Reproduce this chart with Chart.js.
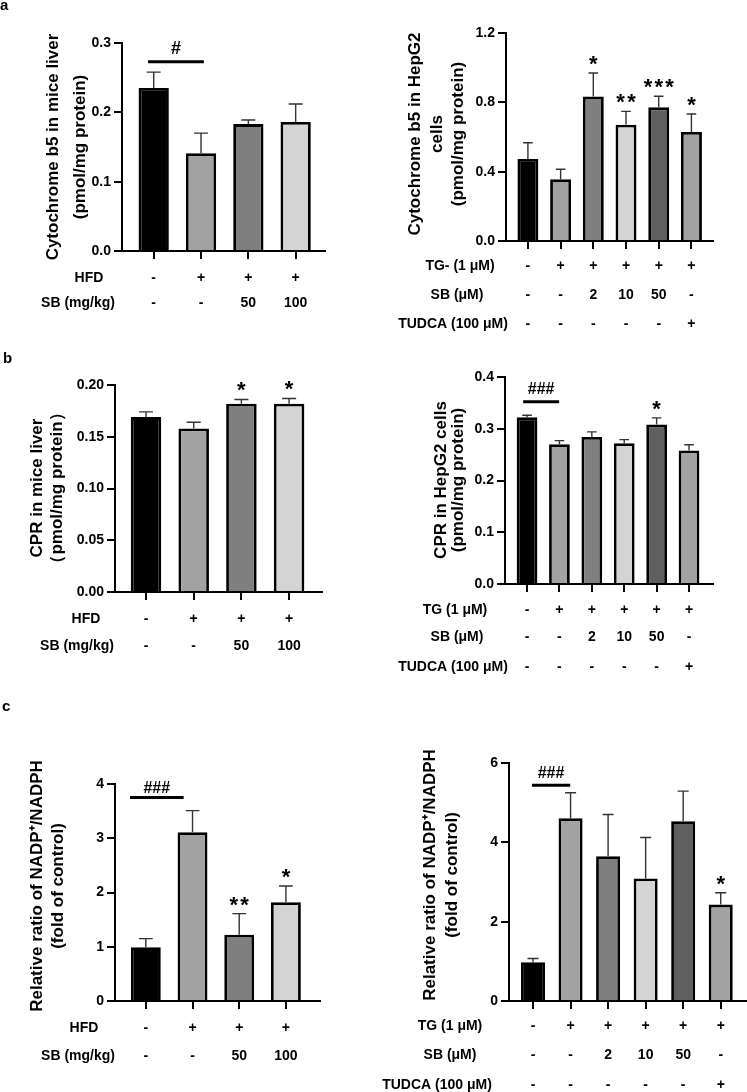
<!DOCTYPE html>
<html><head><meta charset="utf-8">
<script src="https://cdn.jsdelivr.net/npm/chart.js@4.4.1/dist/chart.umd.min.js"></script>
<style>
html,body{margin:0;padding:0;background:#fff;overflow:hidden;width:747px;height:1092px}
canvas{position:absolute;left:0;top:0}
</style></head><body>
<canvas id="aL" width="747" height="1092"></canvas>
<canvas id="aR" width="747" height="1092"></canvas>
<canvas id="bL" width="747" height="1092"></canvas>
<canvas id="bR" width="747" height="1092"></canvas>
<canvas id="cL" width="747" height="1092"></canvas>
<canvas id="cR" width="747" height="1092"></canvas>
<script>
// ---------- data ----------
const miceHFD = ['-', '+', '+', '+'];
const miceSB = ['-', '-', '50', '100'];
const cellTG = ['-', '+', '+', '+', '+', '+'];
const cellSB = ['-', '-', '2', '10', '50', '-'];
const cellTUDCA = ['-', '-', '-', '-', '-', '+'];

const miceColors = ['#000000', '#a2a2a2', '#7f7f7f', '#d4d4d4'];
const cellColors = ['#000000', '#a2a2a2', '#7f7f7f', '#d4d4d4', '#5f5f5f', '#a2a2a2'];

const cyb5MiceMean = [0.235, 0.141, 0.183, 0.186];
const cyb5MiceSD = [0.023, 0.029, 0.006, 0.026];
const cyb5MiceSig = ['', '', '', ''];

const cyb5CellMean = [0.473, 0.356, 0.833, 0.671, 0.771, 0.629];
const cyb5CellSD = [0.094, 0.058, 0.136, 0.077, 0.064, 0.104];
const cyb5CellSig = ['', '', '*', '**', '***', '*'];

const cprMiceMean = [0.169, 0.158, 0.182, 0.182];
const cprMiceSD = [0.005, 0.006, 0.004, 0.005];
const cprMiceSig = ['', '', '*', '*'];

const cprCellMean = [0.322, 0.270, 0.284, 0.272, 0.308, 0.258];
const cprCellSD = [0.004, 0.007, 0.010, 0.007, 0.013, 0.011];
const cprCellSig = ['', '', '', '', '*', ''];

const nadpMiceMean = [0.99, 3.11, 1.22, 1.82];
const nadpMiceSD = [0.16, 0.40, 0.39, 0.30];
const nadpMiceSig = ['', '', '**', '*'];

const nadpCellMean = [0.98, 4.61, 3.65, 3.09, 4.53, 2.43];
const nadpCellSD = [0.09, 0.64, 1.05, 1.03, 0.76, 0.30];
const nadpCellSig = ['', '', '', '', '', '*'];

const ticksCyb5Mice = [0, 0.1, 0.2, 0.3];
const tickLabelsCyb5Mice = ['0.0', '0.1', '0.2', '0.3'];
const ticksCyb5Cell = [0, 0.4, 0.8, 1.2];
const tickLabelsCyb5Cell = ['0.0', '0.4', '0.8', '1.2'];
const ticksCprMice = [0, 0.05, 0.10, 0.15, 0.20];
const tickLabelsCprMice = ['0.00', '0.05', '0.10', '0.15', '0.20'];
const ticksCprCell = [0, 0.1, 0.2, 0.3, 0.4];
const tickLabelsCprCell = ['0.0', '0.1', '0.2', '0.3', '0.4'];
const ticksNadpMice = [0, 1, 2, 3, 4];
const tickLabelsNadpMice = ['0', '1', '2', '3', '4'];
const ticksNadpCell = [0, 2, 4, 6];
const tickLabelsNadpCell = ['0', '2', '4', '6'];

// ---------- drawing ----------
const FONT = "'Liberation Sans', Arial, Helvetica, sans-serif";
const W = 747, H = 1092;

function build(id, s) {
  const yW = 50, xH = 20;
  const overlay = {
    id: 'overlay_' + id,
    afterDatasetsDraw(chart) {
      const ctx = chart.ctx, xs = chart.scales.x, ys = chart.scales.y;
      const meta = chart.getDatasetMeta(0);
      ctx.save();
      s.mean.forEach((m, i) => {
        const x = xs.getPixelForValue(i);
        const y0 = ys.getPixelForValue(m);
        const y1 = ys.getPixelForValue(m + s.sd[i]);
        const hw = meta.data[i].width * 0.23;
        ctx.strokeStyle = '#333333';
        ctx.lineWidth = 1.4;
        ctx.beginPath();
        ctx.moveTo(x, y0); ctx.lineTo(x, y1);
        ctx.moveTo(x - hw, y1); ctx.lineTo(x + hw, y1);
        ctx.stroke();
        const sg = s.sig[i];
        if (sg) {
          ctx.fillStyle = '#000';
          ctx.font = 'bold 22px ' + FONT;
          ctx.textAlign = 'center';
          ctx.textBaseline = 'alphabetic';
          for (let j = 0; j < sg.length; j++) {
            ctx.fillText('*', x + (j - (sg.length - 1) / 2) * 10.8, y1 - 2);
          }
        }
      });
      if (s.hash) {
        const h = s.hash;
        const yl = ys.getPixelForValue(h.level);
        const xa = xs.getPixelForValue(h.from), xb = xs.getPixelForValue(h.to);
        ctx.strokeStyle = '#000'; ctx.lineWidth = 3;
        ctx.beginPath(); ctx.moveTo(xa, yl); ctx.lineTo(xb, yl); ctx.stroke();
        ctx.fillStyle = '#000';
        ctx.font = 'bold ' + h.size + 'px ' + FONT;
        ctx.textAlign = 'center'; ctx.textBaseline = 'alphabetic';
        ctx.fillText(h.text, (xa + xb) / 2, yl - h.gap);
      }
      ctx.restore();
    },
    afterDraw(chart) {
      const ctx = chart.ctx, xs = chart.scales.x;
      ctx.save();
      ctx.fillStyle = '#000';
      ctx.font = 'bold 14px ' + FONT;
      ctx.textAlign = 'center'; ctx.textBaseline = 'middle';
      s.rows.forEach(r => {
        ctx.fillText(r.label, r.lx, r.y);
        r.values.forEach((v, i) => ctx.fillText(v, xs.getPixelForValue(i), r.y));
      });
      ctx.font = 'bold 17px ' + FONT;
      s.title.lines.forEach((t, k) => {
        ctx.save();
        ctx.translate(s.title.xs[k], s.title.cy);
        ctx.rotate(-Math.PI / 2);
        ctx.fillText(t, 0, 0);
        ctx.restore();
      });
      if (s.letters) {
        ctx.font = 'bold 15px ' + FONT;
        ctx.textAlign = 'left'; ctx.textBaseline = 'alphabetic';
        s.letters.forEach(l => ctx.fillText(l.t, l.x, l.y));
      }
      ctx.restore();
    }
  };
  return new Chart(document.getElementById(id), {
    type: 'bar',
    data: {
      datasets: [{
        data: s.mean.map((v, i) => ({ x: i, y: v })),
        backgroundColor: s.colors,
        borderColor: '#000',
        borderWidth: 2.8,
        barPercentage: 0.64,
        categoryPercentage: 1
      }]
    },
    options: {
      responsive: false,
      animation: false,
      devicePixelRatio: 1,
      events: [],
      layout: {
        padding: {
          left: s.axisX - yW,
          top: s.top,
          right: W - s.right,
          bottom: H - s.bottom - xH
        }
      },
      plugins: { legend: { display: false }, tooltip: { enabled: false } },
      scales: {
        x: {
          type: 'linear',
          offset: false,
          bounds: 'data',
          min: s.xmin, max: s.xmax,
          afterBuildTicks: sc => { sc.ticks = s.mean.map((_, i) => ({ value: i })); },
          afterFit: sc => { sc.height = xH; },
          ticks: { display: false },
          grid: { display: true, offset: false, drawOnChartArea: false, drawTicks: true, tickLength: 8, lineWidth: 2, color: '#000' },
          border: { display: true, color: '#000', width: 2 }
        },
        y: {
          min: 0, max: s.yTicks[s.yTicks.length - 1],
          afterBuildTicks: sc => { sc.ticks = s.yTicks.map(v => ({ value: v })); },
          afterFit: sc => { sc.width = yW; },
          ticks: {
            callback: (v, i) => s.yLabels[i],
            color: '#000', padding: 3,
            font: { family: FONT, size: 14, weight: 'bold' }
          },
          grid: { display: true, drawOnChartArea: false, drawTicks: true, tickLength: 8, lineWidth: 2, color: '#000' },
          border: { display: true, color: '#000', width: 2 }
        }
      }
    },
    plugins: [overlay]
  });
}

build('aL', {
  mean: cyb5MiceMean, sd: cyb5MiceSD, sig: cyb5MiceSig, colors: miceColors,
  yTicks: ticksCyb5Mice, yLabels: tickLabelsCyb5Mice,
  axisX: 122, top: 43, bottom: 251, right: 325, xmin: -0.67, xmax: 3.62,
  hash: { text: '#', from: -0.12, to: 1.06, level: 0.273, size: 18, gap: 8 },
  rows: [
    { label: 'HFD', lx: 89, y: 278, values: miceHFD },
    { label: 'SB (mg/kg)', lx: 78, y: 303, values: miceSB }
  ],
  title: { lines: ['Cytochrome b5 in mice liver', '(pmol/mg protein)'], xs: [53, 80], cy: 147 },
  letters: [{ t: 'a', x: 0, y: 10 }, { t: 'b', x: 3, y: 363 }, { t: 'c', x: 2, y: 711 }]
});

build('aR', {
  mean: cyb5CellMean, sd: cyb5CellSD, sig: cyb5CellSig, colors: cellColors,
  yTicks: ticksCyb5Cell, yLabels: tickLabelsCyb5Cell,
  axisX: 506, top: 33, bottom: 241, right: 713, xmin: -0.67, xmax: 5.66,
  rows: [
    { label: 'TG- (1 μM)', lx: 460, y: 266, values: cellTG },
    { label: 'SB (μM)', lx: 457, y: 295, values: cellSB },
    { label: 'TUDCA (100 μM)', lx: 453, y: 324, values: cellTUDCA }
  ],
  title: { lines: ['Cytochrome b5 in HepG2', 'cells', '(pmol/mg protein)'], xs: [415, 437, 458], cy: 134 }
});

build('bL', {
  mean: cprMiceMean, sd: cprMiceSD, sig: cprMiceSig, colors: miceColors,
  yTicks: ticksCprMice, yLabels: tickLabelsCprMice,
  axisX: 115, top: 385, bottom: 592, right: 322, xmin: -0.65, xmax: 3.69,
  rows: [
    { label: 'HFD', lx: 86, y: 619, values: miceHFD },
    { label: 'SB (mg/kg)', lx: 77, y: 646, values: miceSB }
  ],
  title: { lines: ['CPR in mice liver', '（pmol/mg protein）'], xs: [37, 57], cy: 488 }
});

build('bR', {
  mean: cprCellMean, sd: cprCellSD, sig: cprCellSig, colors: cellColors,
  yTicks: ticksCprCell, yLabels: tickLabelsCprCell,
  axisX: 505, top: 377, bottom: 584, right: 713, xmin: -0.68, xmax: 5.74,
  hash: { text: '###', from: -0.12, to: 0.99, level: 0.352, size: 16, gap: 8 },
  rows: [
    { label: 'TG (1 μM)', lx: 455, y: 610, values: cellTG },
    { label: 'SB (μM)', lx: 457, y: 637, values: cellSB },
    { label: 'TUDCA (100 μM)', lx: 453, y: 667, values: cellTUDCA }
  ],
  title: { lines: ['CPR in HepG2 cells', '(pmol/mg protein)'], xs: [441, 458], cy: 480 }
});

build('cL', {
  mean: nadpMiceMean, sd: nadpMiceSD, sig: nadpMiceSig, colors: miceColors,
  yTicks: ticksNadpMice, yLabels: tickLabelsNadpMice,
  axisX: 115, top: 784, bottom: 1001, right: 320, xmin: -0.66, xmax: 3.73,
  hash: { text: '###', from: -0.34, to: 0.81, level: 3.75, size: 16, gap: 5 },
  rows: [
    { label: 'HFD', lx: 84, y: 1028, values: miceHFD },
    { label: 'SB (mg/kg)', lx: 78, y: 1056, values: miceSB }
  ],
  title: { lines: ['Relative ratio of NADP⁺/NADPH', '(fold of control)'], xs: [37, 58], cy: 886 }
});

build('cR', {
  mean: nadpCellMean, sd: nadpCellSD, sig: nadpCellSig, colors: cellColors,
  yTicks: ticksNadpCell, yLabels: tickLabelsNadpCell,
  axisX: 509, top: 763, bottom: 1001, right: 747, xmin: -0.64, xmax: 5.7,
  hash: { text: '###', from: -0.03, to: 0.99, level: 5.44, size: 16, gap: 7 },
  rows: [
    { label: 'TG (1 μM)', lx: 450, y: 1026, values: cellTG },
    { label: 'SB (μM)', lx: 450, y: 1055, values: cellSB },
    { label: 'TUDCA (100 μM)', lx: 437, y: 1085, values: cellTUDCA }
  ],
  title: { lines: ['Relative ratio of NADP⁺/NADPH', '(fold of control)'], xs: [430, 452], cy: 875 }
});
</script>
</body></html>
